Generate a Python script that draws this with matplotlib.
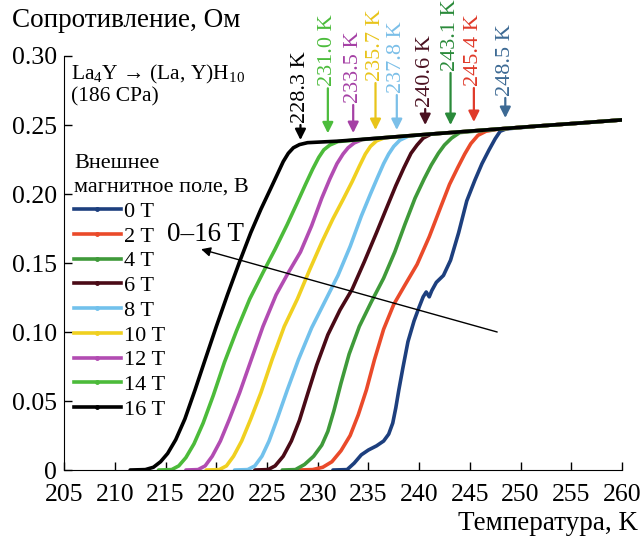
import matplotlib
matplotlib.use('Agg')
import matplotlib.pyplot as plt
from matplotlib.lines import Line2D

plt.rcParams['font.family'] = ['Liberation Serif', 'DejaVu Serif']
plt.rcParams['mathtext.fontset'] = 'custom'
plt.rcParams['mathtext.rm'] = 'Liberation Serif'
plt.rcParams['mathtext.it'] = 'Liberation Serif:italic'

# field labels and colours
fields = ['0 T', '2 T', '4 T', '6 T', '8 T', '10 T', '12 T', '14 T', '16 T']
colors = ['#1d3f7e', '#ea4a2a', '#3f9a3a', '#4a0a16', '#72c1ec',
          '#f0d020', '#b24cb2', '#4cbb3a', '#000000']

# transition parts of R(T)
t_0 = [231.5, 232.9, 233.6, 234.3, 235.0, 235.8, 236.5, 237.0, 237.4, 237.7, 238.0,
       238.4, 238.9, 239.5, 240.0, 240.4, 240.7, 241.0, 241.25, 241.7, 242.4, 243.1,
       243.9, 244.7, 245.5, 246.2, 246.9, 247.5, 248.0, 248.6]
r_0 = [0, 0.0003, 0.005, 0.011, 0.0145, 0.0175, 0.021, 0.026, 0.034, 0.045, 0.058,
       0.074, 0.093, 0.108, 0.118, 0.1255, 0.129, 0.1255, 0.130, 0.136, 0.141, 0.152,
       0.172, 0.195, 0.210, 0.222, 0.232, 0.240, 0.2455, 0.2472]
t_2 = [228.0, 229.5, 230.5, 231.4, 232.3, 233.2, 234.0, 234.8, 235.6, 236.5, 237.5,
       238.6, 239.8, 241.0, 242.1, 243.0, 243.8, 244.5, 245.1, 245.8, 246.6]
r_2 = [0, 0.0003, 0.002, 0.006, 0.014, 0.025, 0.040, 0.058, 0.080, 0.102, 0.120,
       0.134, 0.149, 0.169, 0.190, 0.207, 0.219, 0.229, 0.2365, 0.2425, 0.2455]
t_4 = [226.5, 227.8, 228.7, 229.6, 230.4, 231.0, 231.6, 232.3, 233.1, 234.1, 235.3,
       236.5, 237.6, 238.6, 239.6, 240.5, 241.2, 241.9, 242.5, 243.2, 244.0]
r_4 = [0, 0.0003, 0.004, 0.010, 0.018, 0.028, 0.043, 0.063, 0.084, 0.104, 0.122,
       0.139, 0.158, 0.178, 0.197, 0.211, 0.221, 0.2295, 0.2355, 0.2405, 0.2445]
t_6 = [223.8, 225.1, 225.8, 226.6, 227.4, 228.2, 229.0, 229.9, 231.0, 232.2, 233.4,
       234.6, 235.8, 236.8, 237.7, 238.5, 239.2, 239.8, 240.4, 241.2]
r_6 = [0, 0.0003, 0.003, 0.010, 0.021, 0.036, 0.055, 0.076, 0.098, 0.116, 0.131,
       0.151, 0.172, 0.190, 0.206, 0.219, 0.2295, 0.2355, 0.2405, 0.2435]
t_8 = [221.8, 223.1, 223.8, 224.5, 225.2, 226.0, 227.0, 228.1, 229.4, 230.7, 232.0,
       233.2, 234.3, 235.2, 235.9, 236.5, 237.0, 237.5, 238.1, 238.9]
r_8 = [0, 0.0003, 0.003, 0.010, 0.021, 0.037, 0.058, 0.080, 0.103, 0.122, 0.141,
       0.162, 0.184, 0.200, 0.212, 0.222, 0.229, 0.2345, 0.239, 0.2418]
t_10 = [219.0, 220.3, 221.0, 221.7, 222.5, 223.4, 224.4, 225.5, 226.7, 228.0, 229.2,
        230.4, 231.5, 232.5, 233.4, 234.1, 234.7, 235.2, 235.8, 236.6]
r_10 = [0, 0.0003, 0.003, 0.010, 0.021, 0.037, 0.056, 0.080, 0.104, 0.124, 0.145,
        0.165, 0.182, 0.196, 0.209, 0.220, 0.229, 0.2345, 0.2385, 0.2408]
t_12 = [217.0, 218.2, 218.9, 219.6, 220.4, 221.3, 222.3, 223.4, 224.6, 225.9, 227.1,
        228.3, 229.4, 230.4, 231.2, 231.9, 232.5, 233.0, 233.6, 234.4]
r_12 = [0, 0.0003, 0.003, 0.010, 0.021, 0.037, 0.056, 0.079, 0.104, 0.127, 0.143,
        0.158, 0.177, 0.197, 0.211, 0.222, 0.229, 0.2335, 0.237, 0.2395]
t_14 = [214.3, 215.6, 216.3, 217.0, 217.8, 218.7, 219.7, 220.8, 222.0, 223.3, 224.6,
        225.8, 227.0, 228.0, 228.8, 229.5, 230.1, 230.6, 231.2, 232.0]
r_14 = [0, 0.0003, 0.003, 0.009, 0.019, 0.034, 0.054, 0.078, 0.101, 0.124, 0.143,
        0.160, 0.178, 0.194, 0.207, 0.218, 0.2265, 0.232, 0.2355, 0.238]
t_16 = [211.5, 213.0, 213.8, 214.5, 215.2, 216.0, 216.9, 217.9, 218.9, 220.0, 221.1,
        222.3, 223.4, 224.4, 225.3, 226.0, 226.6, 227.1, 227.6, 228.2, 229.0]
r_16 = [0, 0.0003, 0.002, 0.006, 0.012, 0.022, 0.037, 0.058, 0.080, 0.104, 0.127,
        0.151, 0.172, 0.189, 0.203, 0.214, 0.2235, 0.2295, 0.2335, 0.2358, 0.2372]

# normal state (shared by all curves)
t_norm = [228.5, 232, 236, 240, 244, 248, 252, 256, 260]
r_norm = [0.2365, 0.2383, 0.2405, 0.2428, 0.2450, 0.2472, 0.2494, 0.2515, 0.2537]

t_all = [t_0, t_2, t_4, t_6, t_8, t_10, t_12, t_14, t_16]
r_all = [r_0, r_2, r_4, r_6, r_8, r_10, r_12, r_14, r_16]

# onset temperatures shown with arrows
tc_vals = [248.5, 245.4, 243.1, 240.6, 237.8, 235.7, 233.5, 231.0, 228.3]
tc_colors = ['#3d6a94', '#e03a2a', '#2a8a3a', '#4a1020', '#7bbfe8',
             '#e8c41a', '#a540a5', '#4cbc3c', '#000000']
# arrow tip, arrow tail (in ohm units on the y axis)
tc_tip = [0.2551, 0.2522, 0.250, 0.250, 0.2464, 0.2464, 0.2442, 0.244, 0.2391]
tc_tail = [0.2696, 0.2768, 0.2877, 0.2616, 0.2717, 0.2804, 0.2645, 0.2766, 0.250]

fig = plt.figure(figsize=(6.44, 5.40), dpi=100)
ax = fig.add_axes([0.0997, 0.1296, 0.8660, 0.7667])

for t, r, c in zip(t_all, r_all, colors):
    tt = list(t) + [x for x in t_norm if x > t[-1] + 0.3]
    rr = list(r) + [y for x, y in zip(t_norm, r_norm) if x > t[-1] + 0.3]
    ax.plot(tt, rr, color=c, lw=2.6, solid_capstyle='round', solid_joinstyle='round')

for tc, c, tip, tail in zip(tc_vals, tc_colors, tc_tip, tc_tail):
    ax.annotate('', xy=(tc, tip), xytext=(tc, tail), annotation_clip=False,
                arrowprops=dict(arrowstyle='-|>', color=c, lw=1.6,
                                mutation_scale=16, shrinkA=0, shrinkB=0))
    ax.text(tc, tail + 0.0015, f'{tc:.1f} K', color=c, rotation=90,
            ha='center', va='bottom', fontsize=16, clip_on=False)

# 0-16 T arrow
ax.annotate('', xy=(218.5, 0.160), xytext=(247.7, 0.100),
            arrowprops=dict(arrowstyle='-|>', color='black', lw=1.0,
                            mutation_scale=14, shrinkA=0, shrinkB=0))
ax.text(0.184, 0.568, '0\u201316 T', transform=ax.transAxes, fontsize=19.5,
        ha='left', va='center')

ax.text(0.013, 0.983, r'La$_\mathrm{4}$Y → (La, Y)H$_\mathrm{10}$' + '\n(186 CPa)',
        transform=ax.transAxes, fontsize=15.5, ha='left', va='top', linespacing=1.1)

handles = [Line2D([], [], color=c, lw=2.6, marker='o', ms=2.5) for c in colors]
leg = ax.legend(handles, fields, loc='upper left', bbox_to_anchor=(0.0175, 0.763),
                frameon=False, title='Внешнее\nмагнитное поле, В', alignment='left',
                fontsize=16, title_fontsize=16, handlelength=2.1,
                handletextpad=0.15, labelspacing=0.19, borderpad=0, borderaxespad=0)
leg.get_title().set_linespacing(1.35)

ax.set_xlim(205, 260)
ax.set_ylim(0, 0.30)
ax.set_xticks(range(205, 261, 5))
ax.set_yticks([0, 0.05, 0.10, 0.15, 0.20, 0.25, 0.30])
ax.set_yticklabels(['0', '0.05', '0.10', '0.15', '0.20', '0.25', '0.30'])
ax.tick_params(direction='in', length=6, width=1, labelsize=18.5)
ax.tick_params(axis='x', pad=10)
ax.tick_params(axis='y', pad=5)
ax.spines['top'].set_visible(False)
ax.spines['right'].set_visible(False)

fig.text(0.018, 0.962, 'Сопротивление, Ом', fontsize=19.5, ha='left', va='center')
fig.text(0.99, 0.031, 'Температура, K', fontsize=19.5, ha='right', va='center')

fig.savefig('out.png', dpi=100)
